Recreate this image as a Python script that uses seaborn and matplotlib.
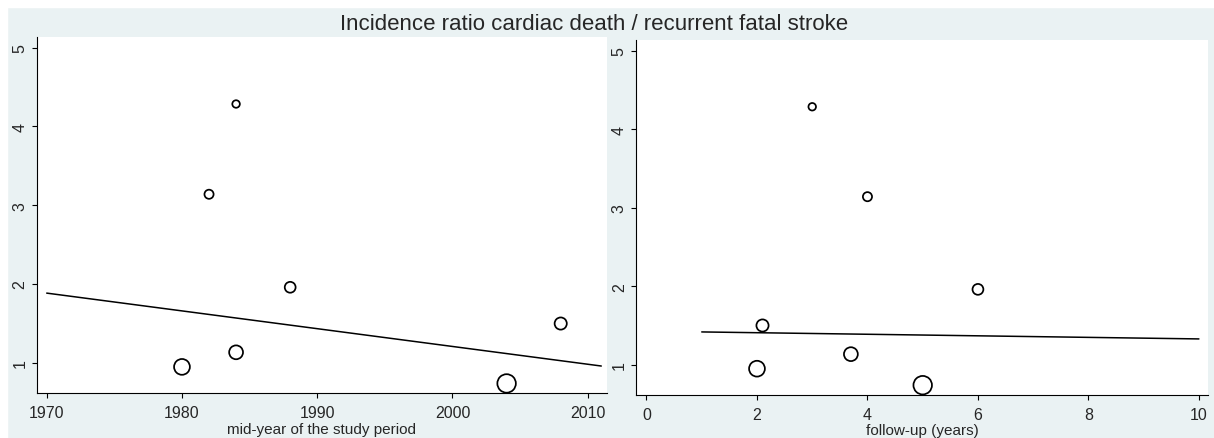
import pandas as pd
import seaborn as sns
from matplotlib import pyplot as plt
from matplotlib.patches import Rectangle


# Studies: mid-year of study period, follow-up (years), incidence ratio, relative weight
mid_year = [1980, 1984, 1988, 2004, 2008, 1984, 1982]
follow_up = [2, 3.7, 6, 5, 2.1, 3, 4]
ratio = [0.95, 1.135, 1.96, 0.74, 1.50, 4.285, 3.14]
weight = [216, 166, 102, 296, 128, 49, 72]

# Fitted lines (end points)
fit_year_x = [1970, 2011]
fit_year_y = [1.886, 0.961]
fit_fu_x = [1, 10]
fit_fu_y = [1.418, 1.329]

year_ticks = [1970, 1980, 1990, 2000, 2010]
fu_ticks = [0, 2, 4, 6, 8, 10]
y_ticks = [1, 2, 3, 4, 5]

title = 'Incidence ratio cardiac death / recurrent fatal stroke'

df = pd.DataFrame({'mid_year': mid_year, 'follow_up': follow_up, 'ratio': ratio, 'weight': weight})

sns.set_style('ticks')
plt.rcParams['font.family'] = ['Liberation Sans', 'DejaVu Sans']

W, H = 1214, 439
bg = '#EAF2F3'
fig = plt.figure(figsize=(W / 100, H / 100), dpi=100, facecolor=bg)

# white border at top and left like the original export
fig.patches.append(Rectangle((0, 1 - 8 / H), 1, 8 / H, transform=fig.transFigure, color='white', zorder=-1))
fig.patches.append(Rectangle((0, 0), 7 / W, 1, transform=fig.transFigure, color='white', zorder=-1))


def box(l, t, r, b):
    return [l / W, 1 - b / H, (r - l) / W, (b - t) / H]


ax1 = fig.add_axes(box(36.7, 38, 606.7, 394.3))
ax2 = fig.add_axes(box(636, 41, 1208.3, 396))

k = 0.6  # weight -> marker area in pt^2


def draw_panel(ax, xcol, fit_x, fit_y, xlim, xticks, xlabel):
    sns.scatterplot(data=df, x=xcol, y='ratio', size='weight', sizes=(49 * k, 296 * k),
                    size_norm=(49, 296), facecolor='none', edgecolor='black',
                    linewidth=1.25, legend=False, ax=ax, zorder=3)
    for coll in ax.collections:
        coll.set_facecolor('none')
    sns.lineplot(x=fit_x, y=fit_y, color='black', lw=1.1, ax=ax)

    ax.set_facecolor('white')
    ax.set_xlim(*xlim)
    ax.set_ylim(0.615, 5.135)
    ax.set_xticks(xticks)
    ax.set_yticks(y_ticks)
    ax.set_xlabel(xlabel, fontsize=11, labelpad=1)
    ax.set_ylabel('')
    for s in ['top', 'right']:
        ax.spines[s].set_visible(False)
    for s in ['left', 'bottom']:
        ax.spines[s].set_color('black')
        ax.spines[s].set_linewidth(0.8)
    ax.tick_params(axis='both', length=3.6, width=0.8, color='black', labelsize=11.5)
    ax.tick_params(axis='x', pad=5)
    ax.tick_params(axis='y', pad=3)
    for lab in ax.get_yticklabels():
        lab.set_rotation(90)
        lab.set_va('center')


draw_panel(ax1, 'mid_year', fit_year_x, fit_year_y, (1969.26, 2011.4), year_ticks,
           'mid-year of the study period')
draw_panel(ax2, 'follow_up', fit_fu_x, fit_fu_y, (-0.19, 10.17), fu_ticks,
           'follow-up (years)')

fig.text(594 / W, 1 - 25 / H, title, ha='center', va='center', fontsize=16)

plt.savefig('out.png', dpi=100, facecolor=bg)
plt.close()
